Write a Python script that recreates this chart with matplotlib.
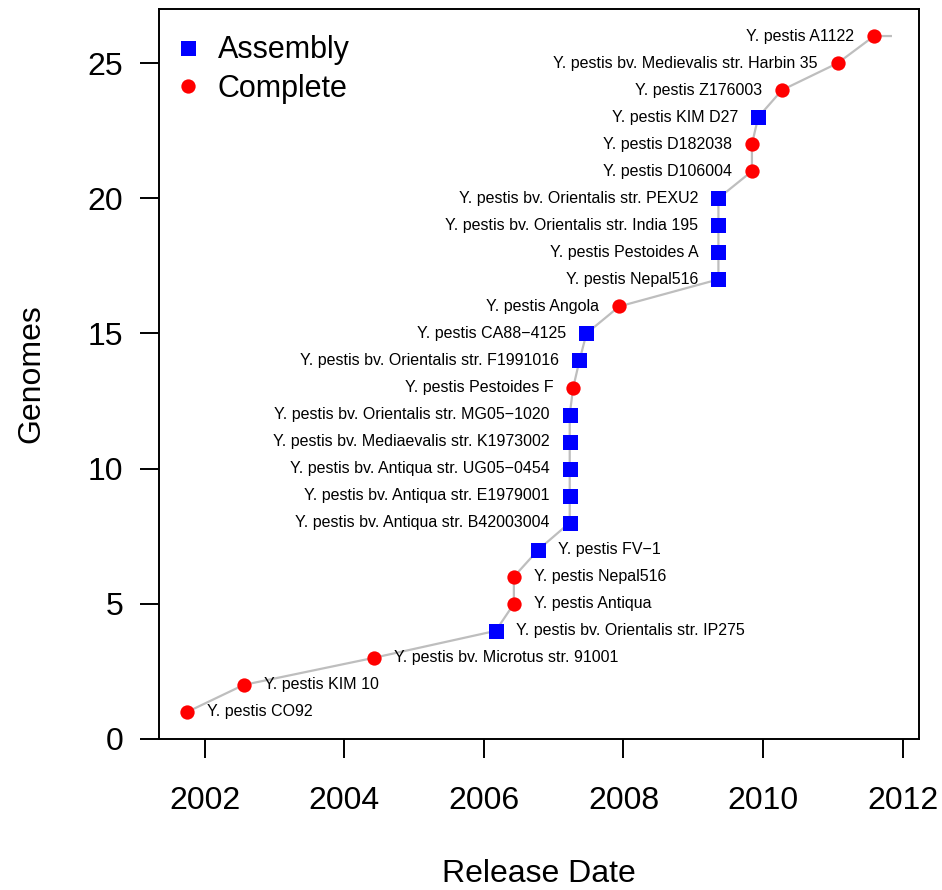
import numpy as np
import matplotlib.pyplot as plt

plt.rcParams['font.family'] = ['Liberation Sans', 'DejaVu Sans']

# release dates (decimal years)
dates = [2001.75, 2002.56, 2004.42, 2006.17, 2006.43, 2006.43, 2006.78,
         2007.23, 2007.23, 2007.23, 2007.23, 2007.23, 2007.28, 2007.37,
         2007.47, 2007.94, 2009.36, 2009.36, 2009.36, 2009.36, 2009.84,
         2009.84, 2009.93, 2010.27, 2011.07, 2011.59]
end_date = 2011.83

status = ['Complete', 'Complete', 'Complete', 'Assembly', 'Complete',
          'Complete', 'Assembly', 'Assembly', 'Assembly', 'Assembly',
          'Assembly', 'Assembly', 'Complete', 'Assembly', 'Assembly',
          'Complete', 'Assembly', 'Assembly', 'Assembly', 'Assembly',
          'Complete', 'Complete', 'Assembly', 'Complete', 'Complete',
          'Complete']

names = ['Y. pestis CO92',
         'Y. pestis KIM 10',
         'Y. pestis bv. Microtus str. 91001',
         'Y. pestis bv. Orientalis str. IP275',
         'Y. pestis Antiqua',
         'Y. pestis Nepal516',
         'Y. pestis FV\u22121',
         'Y. pestis bv. Antiqua str. B42003004',
         'Y. pestis bv. Antiqua str. E1979001',
         'Y. pestis bv. Antiqua str. UG05\u22120454',
         'Y. pestis bv. Mediaevalis str. K1973002',
         'Y. pestis bv. Orientalis str. MG05\u22121020',
         'Y. pestis Pestoides F',
         'Y. pestis bv. Orientalis str. F1991016',
         'Y. pestis CA88\u22124125',
         'Y. pestis Angola',
         'Y. pestis Nepal516',
         'Y. pestis Pestoides A',
         'Y. pestis bv. Orientalis str. India 195',
         'Y. pestis bv. Orientalis str. PEXU2',
         'Y. pestis D106004',
         'Y. pestis D182038',
         'Y. pestis KIM D27',
         'Y. pestis Z176003',
         'Y. pestis bv. Medievalis str. Harbin 35',
         'Y. pestis A1122']

n_right = 7  # first labels sit to the right of the point

x = np.array(dates)
y = np.arange(1, len(dates) + 1)
st = np.array(status)

fig = plt.figure(figsize=(9.42, 8.9), dpi=100)
ax = fig.add_axes([159 / 942, 1 - 739 / 890, 760 / 942, 730 / 890])

ax.plot(np.append(x, end_date), np.append(y, y[-1]), color='#bebebe', lw=1.6, zorder=1)

asm = st == 'Assembly'
ax.plot(x[asm], y[asm], 's', color='blue', ms=10.8, mew=0, ls='none', label='Assembly', zorder=2)
ax.plot(x[~asm], y[~asm], 'o', color='red', ms=10.3, mew=0, ls='none', label='Complete', zorder=2)

for i, (xi, yi, nm) in enumerate(zip(x, y, names)):
    if i < n_right:
        ax.annotate(nm, (xi, yi), xytext=(14.4, 0), textcoords='offset points',
                    ha='left', va='center', fontsize=11.5)
    else:
        ax.annotate(nm, (xi, yi), xytext=(-14.4, 0), textcoords='offset points',
                    ha='right', va='center', fontsize=11.5)

ax.margins(x=0.04, y=0.04)
ax.set_xticks([2002, 2004, 2006, 2008, 2010, 2012])
ax.set_yticks([0, 5, 10, 15, 20, 25])
ax.tick_params(axis='both', length=13.7, width=1.4, labelsize=23, direction='out')
ax.tick_params(axis='x', pad=20)
ax.tick_params(axis='y', pad=12)
for s in ax.spines.values():
    s.set_linewidth(1.4)

ax.set_xlabel('Release Date', fontsize=23, labelpad=31)
ax.set_ylabel('Genomes', fontsize=23, labelpad=30)

ax.legend(loc='upper left', bbox_to_anchor=(13.7 / 760, 1 - 26.4 / 730),
          fontsize=22, frameon=False, borderpad=0, borderaxespad=0,
          handlelength=1.0, handletextpad=0.48, labelspacing=0.28)

fig.savefig('out.png', dpi=100)
